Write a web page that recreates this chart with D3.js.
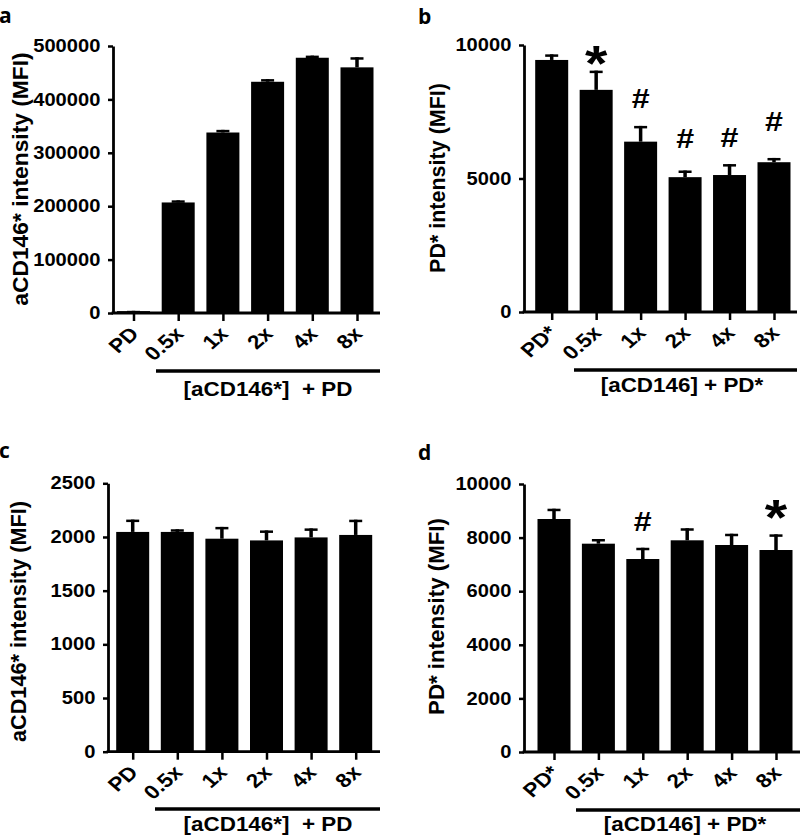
<!DOCTYPE html>
<html><head><meta charset="utf-8">
<script src="https://cdn.jsdelivr.net/npm/d3@7"></script>
<style>body{margin:0;background:#fff}</style>
</head><body><svg id="c" width="800" height="839"></svg>
<script>
// ---- data ----
const catsA = ["PD","0.5x","1x","2x","4x","8x"];
const catsB = ["PD*","0.5x","1x","2x","4x","8x"];
const meanA = [3500,207000,338000,433000,478000,460000];
const errA  = [600,4000,5000,5000,4000,19000];
const ticksA = [0,100000,200000,300000,400000,500000];
const meanB = [9440,8320,6380,5050,5130,5610];
const errB  = [210,720,590,250,410,160];
const ticksB = [0,5000,10000];
const markB = ["","*","#","#","#","#"];
const markYB = [null,9850,8000,6520,6540,7140];
const meanC = [2047,2047,1984,1968,1996,2019];
const errC  = [115,25,110,93,84,142];
const ticksC = [0,500,1000,1500,2000,2500];
const meanD = [8694,7773,7201,7899,7724,7537];
const errD  = [384,175,420,450,420,585];
const ticksD = [0,2000,4000,6000,8000,10000];
const markD = ["","","#","","","*"];
const markYD = [null,null,8640,null,null,9290];
const yLabelA = "aCD146* intensity (MFI)";
const yLabelB = "PD* intensity (MFI)";
const groupA = "[aCD146*]  + PD";
const groupB = "[aCD146] + PD*";

// ---- layout ----
const panels = [
 {id:"a", cats:catsA, mean:meanA, err:errA, ticks:ticksA, ylab:yLabelA, group:groupA, marks:null, markY:null,
  L:113, R:380, top:46, bot:313, c0:133.5, c5:357, labX:20, labY:179, labFs:22.8, letter:[-1,23], brY:371, brL:156, brR:380, brCx:268, brText:396},
 {id:"b", cats:catsB, mean:meanB, err:errB, ticks:ticksB, ylab:yLabelB, group:groupB, marks:markB, markY:markYB,
  L:524, R:797, top:45, bot:312, c0:551.7, c5:774, labX:437, labY:178, labFs:21.5, letter:[418,24], brY:370, brL:574, brR:797, brCx:682, brText:392},
 {id:"c", cats:catsA, mean:meanC, err:errC, ticks:ticksC, ylab:yLabelA, group:groupA, marks:null, markY:null,
  L:108, R:380, top:483.3, bot:751.7, c0:132.7, c5:355.7, labX:18, labY:621.5, labFs:21.7, letter:[-1,458], brY:809, brL:155, brR:380, brCx:268, brText:831},
 {id:"d", cats:catsB, mean:meanD, err:errD, ticks:ticksD, ylab:yLabelB, group:groupB, marks:markD, markY:markYD,
  L:524, R:800, top:484, bot:752, c0:554, c5:776, labX:436, labY:616.5, labFs:22.3, letter:[418,460], brY:810, brL:576, brR:800, brCx:685, brText:831}
];

const FONT = "'Liberation Sans', Arial, Helvetica, sans-serif";
const SX = 1.15; // horizontal text stretch seen in the figure
const svg = d3.select("#c");
const barW = 33;

panels.forEach(p => {
  const g = svg.append("g");
  const x = d3.scalePoint().domain(p.cats).range([p.c0, p.c5]);
  const y = d3.scaleLinear().domain([0, d3.max(p.ticks)]).range([p.bot, p.top]);

  // bars + error bars
  p.cats.forEach((c,i) => {
    const cx = x(c);
    g.append("rect").attr("x", cx - barW/2).attr("y", y(p.mean[i]))
      .attr("width", barW).attr("height", y(0) - y(p.mean[i])).attr("fill", "#000");
    const yt = y(p.mean[i] + p.err[i]);
    g.append("line").attr("x1", cx).attr("x2", cx).attr("y1", y(p.mean[i])).attr("y2", yt)
      .attr("stroke", "#000").attr("stroke-width", 3.5);
    g.append("line").attr("x1", cx - 6.5).attr("x2", cx + 6.5).attr("y1", yt + 1.25).attr("y2", yt + 1.25)
      .attr("stroke", "#000").attr("stroke-width", 2.5);
  });

  // y axis
  const ya = g.append("g").attr("transform", `translate(${p.L},0)`)
    .call(d3.axisLeft(y).tickValues(p.ticks).tickFormat(d3.format("d")).tickSize(5).tickSizeOuter(0).tickPadding(6));
  ya.select(".domain").attr("stroke-width", 2.8);
  ya.selectAll(".tick line").attr("stroke-width", 2.5);
  ya.selectAll(".tick text").attr("font-family", FONT).attr("font-weight", "bold").attr("font-size", 17.5)
    .attr("fill", "#000").attr("transform", `scale(${SX},1)`);

  // x axis
  g.append("line").attr("x1", p.L - 1.4).attr("x2", p.R).attr("y1", y(0)).attr("y2", y(0))
    .attr("stroke", "#000").attr("stroke-width", 2.8);
  const xa = g.append("g").attr("transform", `translate(0,${y(0)})`)
    .call(d3.axisBottom(x).tickSize(8).tickSizeOuter(0));
  xa.select(".domain").remove();
  xa.selectAll(".tick line").attr("stroke-width", 2.5);
  xa.selectAll(".tick text").attr("font-family", FONT).attr("font-weight", "bold").attr("font-size", 19.5)
    .attr("fill", "#000").attr("text-anchor", "end").attr("dy", null).attr("y", null)
    .attr("transform", `translate(6,22) scale(${SX},1) rotate(-45)`);

  // y label
  g.append("text").attr("transform", `translate(${p.labX},${p.labY}) rotate(-90)`)
    .attr("text-anchor", "middle").attr("dy", "0.36em")
    .attr("font-family", FONT).attr("font-weight", "bold").attr("font-size", p.labFs).text(p.ylab);

  // group bracket
  g.append("line").attr("x1", p.brL).attr("x2", p.brR).attr("y1", p.brY).attr("y2", p.brY)
    .attr("stroke", "#000").attr("stroke-width", 3.5);
  g.append("text").attr("transform", `translate(${p.brCx},${p.brText}) scale(${SX},1)`)
    .attr("text-anchor", "middle").style("white-space", "pre")
    .attr("font-family", FONT).attr("font-weight", "bold").attr("font-size", 19.5).text(p.group);

  // panel letter
  g.append("text").attr("x", p.letter[0]).attr("y", p.letter[1])
    .attr("font-family", "'Open Sans', sans-serif").attr("font-weight", 700).attr("font-size", 21).text(p.id);

  // significance marks
  if (p.marks) {
    p.cats.forEach((c,i) => {
      const m = p.marks[i];
      if (!m) return;
      const cy = y(p.markY[i]);
      const fs = m === "*" ? 50 : 28;
      const off = m === "*" ? 0.64 * fs : 0.36 * fs;
      g.append("text").attr("transform", `translate(${x(c)},${cy + off}) scale(${SX},1)`)
        .attr("text-anchor", "middle").attr("font-family", FONT).attr("font-weight", "bold")
        .attr("font-size", fs).text(m);
    });
  }
});
</script></body></html>
